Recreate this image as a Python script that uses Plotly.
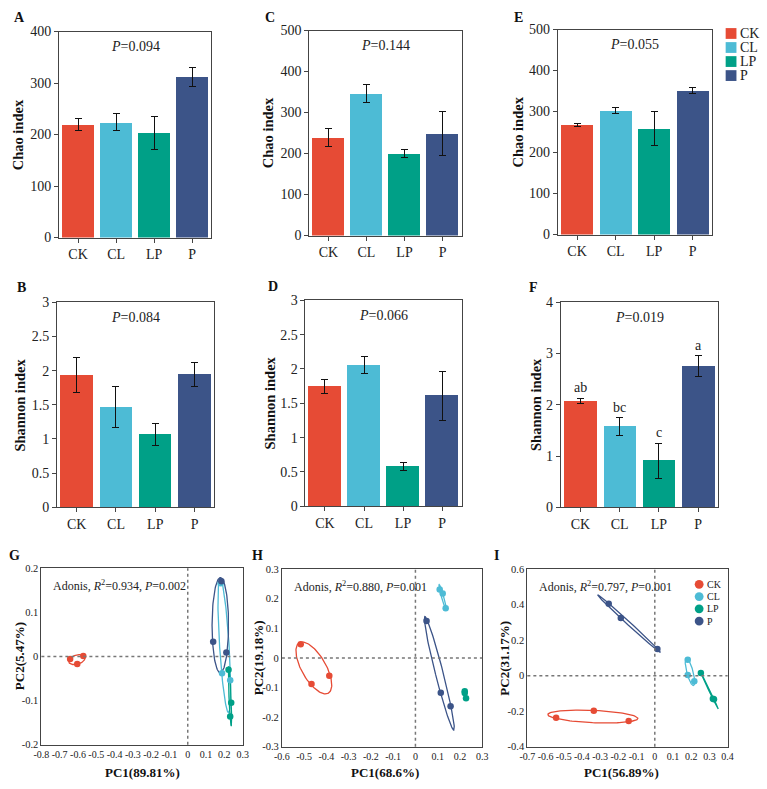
import numpy as np
import plotly.graph_objects as go

W, H = 767, 789
FONT = "Liberation Serif, Times New Roman, serif"
groups = ["CK", "CL", "LP", "P"]
colors = ["#E64B35", "#4DBBD5", "#00A087", "#3C5488"]

# ---------------- bar data ----------------
chao_A = [220, 224, 203, 312]
chao_A_err = [11.5, 16, 32.5, 18]
chao_C = [239, 347, 200, 249]
chao_C_err = [22, 21.5, 9, 54]
chao_E = [268, 303, 258, 352]
chao_E_err = [4, 8, 41, 7.5]
shan_B = [1.935, 1.467, 1.065, 1.94]
shan_B_err = [0.26, 0.30, 0.165, 0.177]
shan_D = [1.748, 2.057, 0.581, 1.61]
shan_D_err = [0.105, 0.12, 0.064, 0.36]
shan_F = [2.076, 1.573, 0.91, 2.758]
shan_F_err = [0.05, 0.175, 0.34, 0.2]
letters_F = ["ab", "bc", "c", "a"]
p_bars = ["0.094", "0.084", "0.144", "0.066", "0.055", "0.019"]

# ---------------- PCoA data ----------------
G_pc1 = {"CK": [-0.643, -0.604, -0.571], "CL": [0.180, 0.1875, 0.232],
         "LP": [0.223, 0.2375, 0.232], "P": [0.184, 0.139, 0.211]}
G_pc2 = {"CK": [-0.006, -0.017, 0.001], "CL": [0.166, -0.038, -0.054],
         "LP": [-0.030, -0.105, -0.136], "P": [0.170, 0.033, 0.009]}
H_pc1 = {"CK": [-0.5155, -0.467, -0.387], "CL": [0.109, 0.1226, 0.136],
         "LP": [0.2216, 0.2216, 0.2275], "P": [0.050, 0.114, 0.158]}
H_pc2 = {"CK": [0.046, -0.088, -0.060], "CL": [0.2315, 0.218, 0.1676],
         "LP": [-0.1125, -0.119, -0.1367], "P": [0.1246, -0.118, -0.163]}
I_pc1 = {"CK": [-0.542, -0.335, -0.1435], "CL": [0.181, 0.181, 0.217],
         "LP": [0.253, 0.319, 0.325], "P": [-0.253, -0.1866, 0.0143]}
I_pc2 = {"CK": [-0.237, -0.198, -0.2556], "CL": [0.089, 0.004, -0.031],
         "LP": [0.015, -0.130, -0.133], "P": [0.4056, 0.324, 0.150]}
adonis = [("0.934", "0.002"), ("0.880", "0.001"), ("0.797", "0.001")]
pc_titles = [("PC1(89.81%)", "PC2(5.47%)"), ("PC1(68.6%)", "PC2(19.18%)"),
             ("PC1(56.89%)", "PC2(31.17%)")]
G_xticks = [-0.8, -0.7, -0.6, -0.5, -0.4, -0.3, -0.2, -0.1, 0, 0.1, 0.2, 0.3]
G_yticks = [-0.2, -0.1, 0, 0.1, 0.2]
H_xticks = [-0.6, -0.5, -0.4, -0.3, -0.2, -0.1, 0, 0.1, 0.2, 0.3]
H_yticks = [-0.3, -0.2, -0.1, 0, 0.1, 0.2, 0.3]
I_xticks = [-0.7, -0.6, -0.5, -0.4, -0.3, -0.2, -0.1, 0, 0.1, 0.2, 0.3, 0.4]
I_yticks = [-0.4, -0.2, 0, 0.2, 0.4, 0.6]


def dom_x(a, b):
    return [a / W, b / W]


def dom_y(top, bottom):
    return [1 - bottom / H, 1 - top / H]


def ax_names(i):
    s = "" if i == 1 else str(i)
    return "x" + s, "y" + s, "xaxis" + s, "yaxis" + s


fig = go.Figure()
layout = {}
ann = []
shapes = []

axis_common = dict(showline=True, linecolor="#444", linewidth=1, mirror=True,
                   ticks="outside", ticklen=4, tickcolor="#444", showgrid=False,
                   zeroline=False, tickangle=0,
                   tickfont=dict(family=FONT, size=14, color="#222"))

# ---------------- bar panels ----------------
bar_panels = [
    (1, chao_A, chao_A_err, (52, 207), (25, 235), [0, 400], 100, "Chao index", "A", (12, 11), 10, 0),
    (2, chao_C, chao_C_err, (307, 462), (24, 233), [0, 500], 100, "Chao index", "C", (267, 11), 265, 2),
    (3, chao_E, chao_E_err, (560, 717), (23, 232), [0, 500], 100, "Chao index", "E", (520, 11), 520, 4),
    (4, shan_B, shan_B_err, (50, 210), (301, 510), [0, 3], 0.5, "Shannon index", "B", (14, 286), 12, 1),
    (5, shan_D, shan_D_err, (303, 462), (299, 509), [0, 3], 0.5, "Shannon index", "D", (270, 285), 267, 3),
    (6, shan_F, shan_F_err, (563, 723), (301, 510), [0, 4], 1, "Shannon index", "F", (535, 286), 538, 5),
]
for (i, vals, errs, xd, yd, yr, dt, ytitle, lab, lpos, tx, pi) in bar_panels:
    xa, ya, xk, yk = ax_names(i)
    fig.add_trace(go.Bar(x=groups, y=vals, marker=dict(color=colors, line=dict(width=0)),
                         width=0.83, showlegend=False, xaxis=xa, yaxis=ya,
                         error_y=dict(type="data", array=errs, color="#111",
                                      thickness=1, width=3.5)))
    layout[xk] = dict(axis_common, domain=dom_x(*xd), anchor=ya,
                      range=[-0.5, 3.5], type="category")
    layout[yk] = dict(axis_common, domain=dom_y(*yd), anchor=xa,
                      range=yr, dtick=dt, tick0=0)
    ann.append(dict(text="<i>P</i>=" + p_bars[pi],
                    xref=f"{xa} domain", yref=f"{ya} domain", x=0.5, y=1, yshift=-15,
                    xanchor="center", yanchor="middle", showarrow=False,
                    font=dict(family=FONT, size=14, color="#222")))
    ann.append(dict(text=f"<b>{ytitle}</b>", xref="paper", yref="paper", x=tx / W,
                    y=1 - (yd[0] + yd[1]) / 2 / H, textangle=-90, showarrow=False,
                    xanchor="center", yanchor="middle",
                    font=dict(family=FONT, size=14.5, color="#111")))
    ann.append(dict(text=f"<b>{lab}</b>", xref="paper", yref="paper", x=lpos[0] / W,
                    y=1 - lpos[1] / H, showarrow=False, xanchor="center", yanchor="middle",
                    font=dict(family=FONT, size=14, color="#111")))

# significance letters panel F
for g, v, e, t in zip(groups, shan_F, shan_F_err, letters_F):
    ann.append(dict(text=t, xref="x6", yref="y6", x=g, y=v + e, yshift=1,
                    xanchor="center", yanchor="bottom", showarrow=False,
                    font=dict(family=FONT, size=14, color="#222")))

# bar legend
for j, (g, c) in enumerate(zip(groups, colors)):
    cy = 27 + j * 14.3
    shapes.append(dict(type="rect", xref="paper", yref="paper",
                       x0=731 / W, x1=742 / W, y0=1 - (cy + 5.5) / H, y1=1 - (cy - 5.5) / H,
                       fillcolor=c, line=dict(width=0)))
    ann.append(dict(text=g, xref="paper", yref="paper", x=744 / W, y=1 - cy / H,
                    xanchor="left", yanchor="middle", showarrow=False,
                    font=dict(family=FONT, size=14, color="#222")))


# ---------------- PCoA panels ----------------
def ellipse(xs, ys, k=1.24, n=120):
    pts = np.vstack([xs, ys])
    m = pts.mean(axis=1)
    cov = np.cov(pts)
    vals, vecs = np.linalg.eigh(cov)
    vals = np.clip(vals, 0, None)
    t = np.linspace(0, 2 * np.pi, n)
    circ = np.vstack([np.cos(t), np.sin(t)])
    e = vecs @ (np.sqrt(vals)[:, None] * circ) * k + m[:, None]
    return e[0], e[1]


pc_panels = [
    (7, G_pc1, G_pc2, (34, 239), (572, 752), [-0.8, 0.3], [-0.2, 0.2], G_xticks, G_yticks,
     "G", (7, 559), 12, 137),
    (8, H_pc1, H_pc2, (279, 483), (573, 754), [-0.6, 0.3], [-0.3, 0.3], H_xticks, H_yticks,
     "H", (254, 559), 256, 384),
    (9, I_pc1, I_pc2, (529, 733), (573, 754), [-0.7, 0.4], [-0.4, 0.6], I_xticks, I_yticks,
     "I", (498, 559), 506, 625),
]
for k, (i, px, py, xd, yd, xr, yr, xt, yt, lab, lpos, ytx, xtx) in enumerate(pc_panels):
    xa, ya, xk, yk = ax_names(i)
    for g, c in zip(groups, colors):
        ex, ey = ellipse(px[g], py[g])
        fig.add_trace(go.Scatter(x=ex, y=ey, mode="lines", line=dict(color=c, width=1.3),
                                 showlegend=False, hoverinfo="skip", xaxis=xa, yaxis=ya))
    for g, c in zip(groups, colors):
        fig.add_trace(go.Scatter(x=px[g], y=py[g], mode="markers",
                                 marker=dict(color=c, size=6.5), showlegend=False,
                                 xaxis=xa, yaxis=ya))
    layout[xk] = dict(axis_common, ticks="", tickfont=dict(family=FONT, size=10, color="#222"),
                      domain=dom_x(*xd), anchor=ya, range=xr,
                      tickvals=xt, ticktext=[f"{v:g}" for v in xt])
    layout[yk] = dict(axis_common, ticks="", tickfont=dict(family=FONT, size=10.5, color="#222"),
                      domain=dom_y(*yd), anchor=xa, range=yr,
                      tickvals=yt, ticktext=[f"{v:g}" for v in yt])
    shapes.append(dict(type="line", xref=xa, yref=f"{ya} domain", x0=0, x1=0, y0=0, y1=1,
                       line=dict(color="#777", width=1.5, dash="dot")))
    shapes.append(dict(type="line", xref=f"{xa} domain", yref=ya, x0=0, x1=1, y0=0, y1=0,
                       line=dict(color="#777", width=1.5, dash="dot")))
    r2, pv = adonis[k]
    ann.append(dict(text=f"Adonis, <i>R</i><sup>2</sup>={r2}, <i>P</i>={pv}",
                    xref=f"{xa} domain", yref=f"{ya} domain", x=0, y=1, xshift=10, yshift=-17,
                    xanchor="left", yanchor="middle", showarrow=False,
                    font=dict(family=FONT, size=12, color="#222")))
    ann.append(dict(text=f"<b>{pc_titles[k][0]}</b>", xref="paper", yref="paper",
                    x=xtx / W, y=1 - 780 / H, xanchor="center", yanchor="middle",
                    showarrow=False, font=dict(family=FONT, size=13, color="#111")))
    ann.append(dict(text=f"<b>{pc_titles[k][1]}</b>", xref="paper", yref="paper",
                    x=ytx / W, y=1 - (yd[0] + yd[1]) / 2 / H, textangle=-90,
                    xanchor="center", yanchor="middle", showarrow=False,
                    font=dict(family=FONT, size=13, color="#111")))
    ann.append(dict(text=f"<b>{lab}</b>", xref="paper", yref="paper", x=lpos[0] / W,
                    y=1 - lpos[1] / H, showarrow=False, xanchor="center", yanchor="middle",
                    font=dict(family=FONT, size=14, color="#111")))

# PCoA legend in panel I
for j, (g, c) in enumerate(zip(groups, colors)):
    cy = 588.5 + j * 12.5
    shapes.append(dict(type="circle", xref="paper", yref="paper",
                       x0=699.5 / W, x1=708.5 / W, y0=1 - (cy + 4.5) / H, y1=1 - (cy - 4.5) / H,
                       fillcolor=c, line=dict(width=0)))
    ann.append(dict(text=g, xref="paper", yref="paper", x=710 / W, y=1 - cy / H,
                    xanchor="left", yanchor="middle", showarrow=False,
                    font=dict(family=FONT, size=10, color="#222")))

fig.update_layout(width=W, height=H, margin=dict(l=0, r=0, t=0, b=0),
                  paper_bgcolor="white", plot_bgcolor="white",
                  font=dict(family=FONT), annotations=ann, shapes=shapes,
                  bargap=0, **layout)
fig.write_html("out.html")
